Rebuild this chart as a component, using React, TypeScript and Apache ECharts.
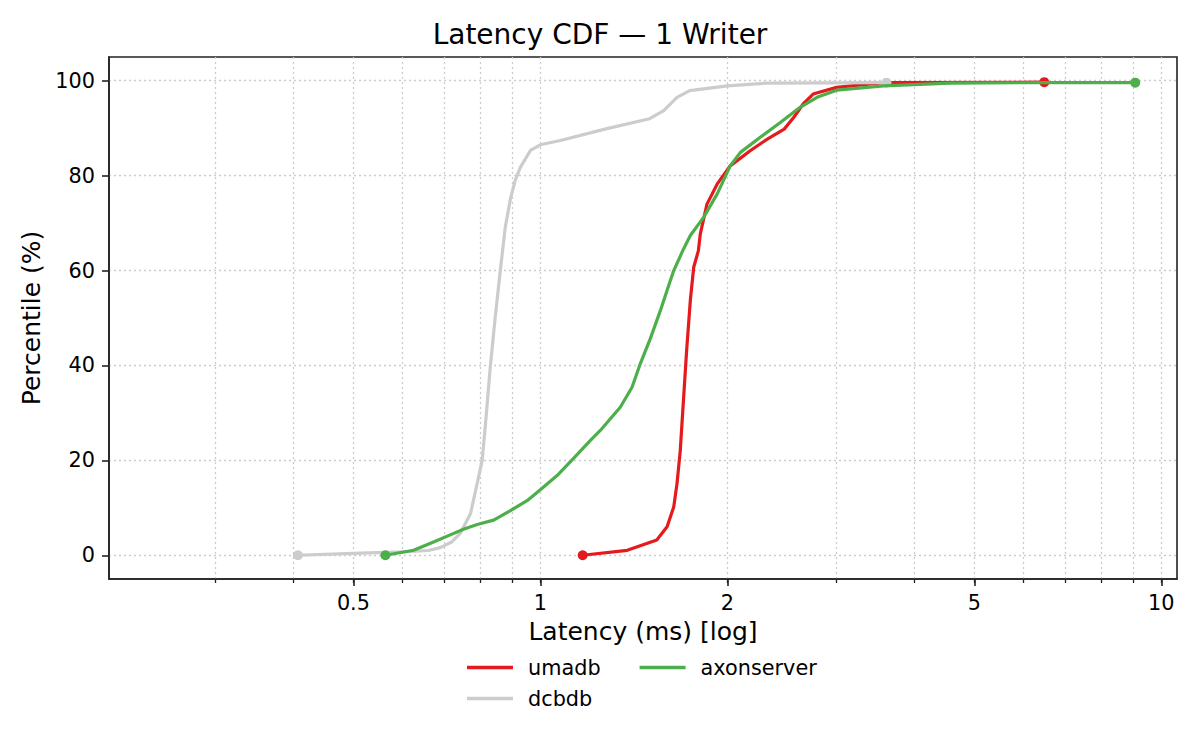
import React, { useEffect, useRef } from "react";
import * as echarts from "echarts";

const umadbLatency = [1.17, 1.38, 1.54, 1.6, 1.64, 1.66, 1.68, 1.7, 1.72, 1.744, 1.766, 1.797, 1.81, 1.855, 1.926, 2.02, 2.18, 2.32, 2.47, 2.56, 2.65, 2.75, 3.0, 3.57, 6.48];
const umadbPct = [0, 1.05, 3.2, 6, 10.2, 15.1, 22, 32.6, 43, 53.7, 60.7, 64.2, 67.8, 74, 78.2, 82, 85.3, 87.7, 89.8, 92.3, 95.1, 97.2, 98.6, 99.6, 99.7];

const dcbdbLatency = [0.407, 0.5, 0.6, 0.66, 0.69, 0.72, 0.743, 0.772, 0.791, 0.806, 0.816, 0.831, 0.846, 0.862, 0.878, 0.895, 0.911, 0.929, 0.964, 1.0, 1.077, 1.28, 1.5, 1.58, 1.66, 1.74, 2.0, 2.32, 3.61];
const dcbdbPct = [0, 0.4, 0.7, 1.0, 1.6, 2.8, 4.6, 8.8, 15.1, 20, 27.7, 40, 50.2, 60, 69.1, 75.1, 79, 81.8, 85.3, 86.5, 87.4, 89.9, 92, 93.7, 96.5, 97.9, 98.9, 99.5, 99.6];

const axonLatency = [0.563, 0.625, 0.673, 0.716, 0.752, 0.791, 0.841, 0.895, 0.952, 1.0, 1.064, 1.131, 1.204, 1.249, 1.345, 1.405, 1.449, 1.503, 1.561, 1.609, 1.64, 1.7, 1.744, 1.832, 1.926, 2.023, 2.1, 2.26, 2.435, 2.62, 2.79, 3.0, 3.57, 4.57, 6.46, 9.08];
const axonPct = [0, 1.05, 2.8, 4.3, 5.5, 6.5, 7.4, 9.4, 11.5, 13.8, 16.8, 20.4, 24.2, 26.3, 31.2, 35.4, 40.4, 45.6, 51.6, 56.8, 60, 64.5, 67.4, 71.2, 76.1, 82.1, 84.9, 88.1, 91.2, 94.4, 96.5, 98.0, 98.9, 99.5, 99.6, 99.6];

const seriesNames = ["umadb", "dcbdb", "axonserver"];
const seriesColors = ["#e41a1c", "#cccccc", "#4daf4a"];

const xMajorTicks = [0.5, 1, 2, 5, 10];
const xMinorTicks = [0.3, 0.4, 0.6, 0.7, 0.8, 0.9, 3, 4, 6, 7, 8, 9];
const yTicks = [0, 20, 40, 60, 80, 100];

const FONT = "DejaVu Sans";

function toPairs(xs: number[], ys: number[]) {
  return xs.map((x, i) => {
    const end = i === 0 || i === xs.length - 1;
    return end
      ? { value: [x, ys[i]], symbol: "circle", symbolSize: 10 }
      : { value: [x, ys[i]], symbol: "none" };
  });
}

export default function App() {
  const ref = useRef<HTMLDivElement>(null);
  useEffect(() => {
    if (!ref.current) return;
    const chart = echarts.init(ref.current, undefined, { renderer: "svg" });
    const allX = [...xMajorTicks, ...xMinorTicks].sort((a, b) => a - b);
    const gridLine = { show: true, lineStyle: { color: "#cccccc", width: 1.3, type: [2, 3] } };
    const lists = [
      [umadbLatency, umadbPct],
      [dcbdbLatency, dcbdbPct],
      [axonLatency, axonPct],
    ];
    const legendText = { fontFamily: FONT, fontSize: 20.8, color: "#000", padding: [0, 0, 0, 10] };
    chart.setOption({
      animation: false,
      backgroundColor: "#ffffff",
      textStyle: { fontFamily: FONT },
      title: {
        text: "Latency CDF — 1 Writer",
        left: "center",
        top: 20,
        padding: 0,
        textStyle: { fontFamily: FONT, fontSize: 28, fontWeight: "normal", color: "#000" },
      },
      grid: {
        left: 109,
        right: 23,
        top: 57,
        bottom: 171,
        show: true,
        borderColor: "#222",
        borderWidth: 1.6,
        backgroundColor: "transparent",
      },
      legend: [
        {
          data: ["umadb", "axonserver"],
          left: 467,
          top: 657,
          orient: "horizontal",
          itemWidth: 46,
          itemHeight: 3.3,
          itemGap: 39,
          icon: "rect",
          padding: 0,
          textStyle: legendText,
        },
        {
          data: ["dcbdb"],
          left: 467,
          top: 688,
          orient: "horizontal",
          itemWidth: 46,
          itemHeight: 3.3,
          icon: "rect",
          padding: 0,
          textStyle: legendText,
        },
      ],
      xAxis: [
        {
          type: "log",
          logBase: 10,
          min: 0.202,
          max: 10.6,
          name: "Latency (ms) [log]",
          nameLocation: "middle",
          nameGap: 40,
          nameTextStyle: { fontFamily: FONT, fontSize: 25, color: "#000" },
          axisLine: { show: true, onZero: false, lineStyle: { color: "#222", width: 1.6 } },
          axisTick: { show: true, length: 4, customValues: allX, lineStyle: { color: "#222", width: 1.3 } },
          axisLabel: {
            show: true,
            customValues: xMajorTicks,
            margin: 13,
            fontFamily: FONT,
            fontSize: 20.8,
            color: "#000",
            formatter: (v: number) => String(Math.round(v * 1000) / 1000),
          },
          splitLine: gridLine,
        },
        {
          type: "log",
          logBase: 10,
          min: 0.202,
          max: 10.6,
          position: "bottom",
          axisLine: { show: false, onZero: false },
          axisTick: { show: true, length: 7, customValues: xMajorTicks, lineStyle: { color: "#222", width: 1.6 } },
          axisLabel: { show: false },
          splitLine: { show: false },
        },
      ],
      yAxis: {
        type: "value",
        min: -5,
        max: 105,
        name: "Percentile (%)",
        nameLocation: "middle",
        nameGap: 64,
        nameTextStyle: { fontFamily: FONT, fontSize: 25, color: "#000" },
        axisLine: { show: true, onZero: false, lineStyle: { color: "#222", width: 1.6 } },
        axisTick: { show: true, length: 7, customValues: yTicks, lineStyle: { color: "#222", width: 1.6 } },
        axisLabel: {
          show: true,
          customValues: yTicks,
          margin: 14,
          fontFamily: FONT,
          fontSize: 20.8,
          color: "#000",
        },
        splitLine: gridLine,
      },
      series: lists.map(([xs, ys], i) => ({
        name: seriesNames[i],
        type: "line",
        xAxisIndex: 0,
        data: toPairs(xs, ys),
        showSymbol: true,
        symbol: "none",
        smooth: false,
        color: seriesColors[i],
        lineStyle: { width: 3.2, color: seriesColors[i], join: "round", cap: "round" },
        itemStyle: { color: seriesColors[i] },
        z: 2 + i,
      })),
    });
    return () => chart.dispose();
  }, []);
  return <div ref={ref} style={{ position: "fixed", left: 0, top: 0, width: 1200, height: 750 }} />;
}
